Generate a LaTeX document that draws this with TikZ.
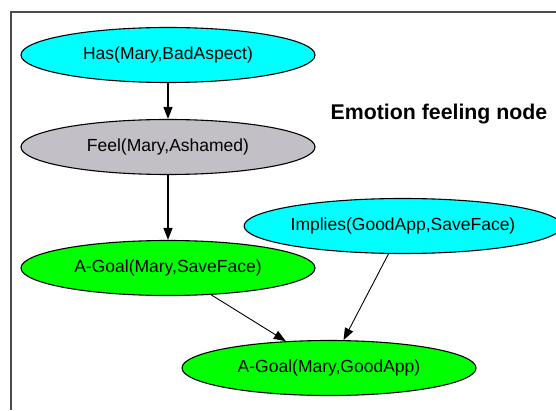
\documentclass[tikz,border=0pt]{standalone}
\usepackage{fontspec}
\setmainfont{Liberation Sans}
\usetikzlibrary{shapes.geometric,arrows.meta}
\definecolor{nodecyan}{HTML}{00FFFF}
\definecolor{nodegray}{HTML}{C2C0C6}
\definecolor{nodegreen}{HTML}{00FF00}
\tikzset{
  fact/.style={ellipse, draw=black, line width=1.1pt, minimum width=294pt, minimum height=55pt, inner sep=0pt, font=\fontsize{17.5}{20}\selectfont},
  edge/.style={draw=black, line width=0.9pt, -{Triangle[length=12pt,width=9pt]}},
  frameline/.style={draw=black!70, line width=1.6pt}
}
\begin{document}
\begin{tikzpicture}[x=1pt,y=1pt]
\useasboundingbox (0,0) rectangle (556,410);
\coordinate (fa) at (11,0);
\coordinate (fb) at (11,398);
\coordinate (fc) at (556,398);
\draw[frameline] (fa) -- (fb) -- (fc);
\node[fact, fill=nodecyan] (has) at (168,355) {Has(Mary,BadAspect)};
\node[fact, fill=nodegray] (feel) at (168,263) {Feel(Mary,Ashamed)};
\node[fact, fill=nodegreen] (save) at (168,142) {A-Goal(Mary,SaveFace)};
\node[fact, fill=nodecyan] (impl) at (403,184) {Implies(GoodApp,SaveFace)};
\node[fact, fill=nodegreen] (good) at (329,42) {A-Goal(Mary,GoodApp)};
\node[font=\fontsize{21.3}{24}\selectfont\bfseries] (lbl) at (439,296) {Emotion feeling node};
\draw[edge, line width=1.3pt] (has) -- (feel);
\draw[edge, line width=1.3pt] (feel) -- (save);
\draw[edge] (save) -- (good);
\draw[edge] (impl) -- (good);
\end{tikzpicture}
\end{document}
